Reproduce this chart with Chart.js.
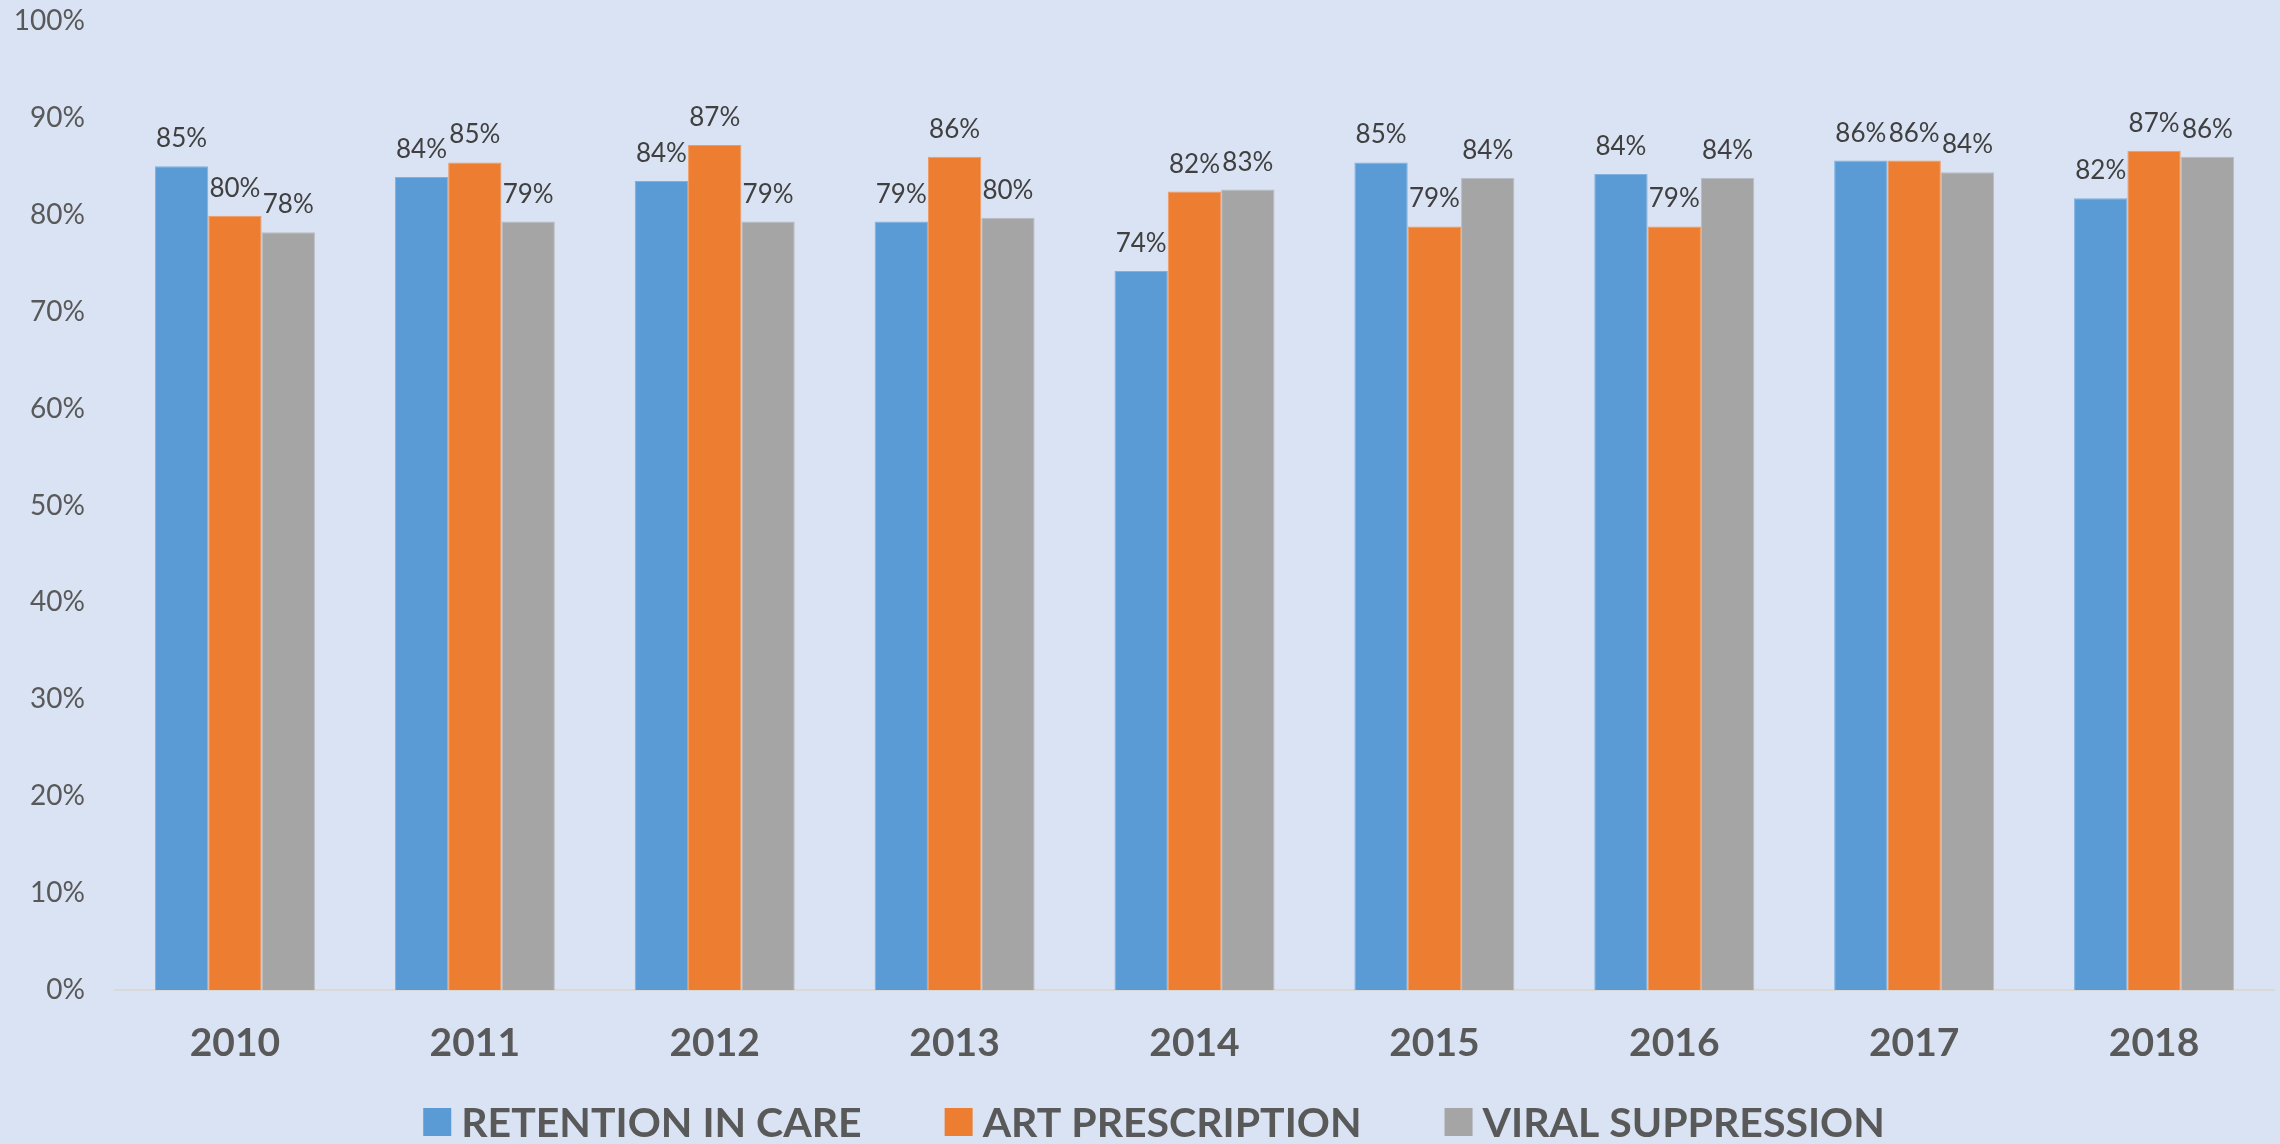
<!DOCTYPE html>
<html>
<head>
<meta charset="utf-8">
<script src="https://cdn.jsdelivr.net/npm/chart.js@4.4.1/dist/chart.umd.min.js"></script>
<style>
  html, body { margin: 0; padding: 0; background: #dae3f3; }
  #wrap { width: 2280px; height: 1144px; }
</style>
</head>
<body>
<div id="wrap"><canvas id="chart" width="2280" height="1144"></canvas></div>
<script>
/***** DATA *****/
const years = ["2010", "2011", "2012", "2013", "2014", "2015", "2016", "2017", "2018"];
const retentionInCare  = [85.0, 83.9, 83.5, 79.3, 74.2, 85.4, 84.2, 85.6, 81.7];
const artPrescription  = [79.9, 85.4, 87.2, 86.0, 82.4, 78.8, 78.8, 85.6, 86.6];
const viralSuppression = [78.2, 79.3, 79.3, 79.7, 82.6, 83.8, 83.8, 84.4, 86.0];
const seriesNames = ["RETENTION IN CARE", "ART PRESCRIPTION", "VIRAL SUPPRESSION"];
const yMin = 0, yMax = 100, yStep = 10;

/***** PLUGINS *****/
const bgFill = {
  id: "bgFill",
  beforeDraw(chart) {
    const ctx = chart.ctx;
    ctx.save();
    ctx.fillStyle = "#dae3f3";
    ctx.fillRect(0, 0, chart.width, chart.height);
    ctx.restore();
  }
};

// value labels above every bar
const barLabels = {
  id: "barLabels",
  afterDatasetsDraw(chart) {
    const ctx = chart.ctx;
    ctx.save();
    ctx.font = "26px Lato";
    ctx.fillStyle = "#404040";
    ctx.textAlign = "center";
    ctx.textBaseline = "alphabetic";
    chart.data.datasets.forEach((ds, i) => {
      chart.getDatasetMeta(i).data.forEach((bar, j) => {
        ctx.fillText(Math.round(ds.data[j]) + "%", bar.x, bar.y - 19);
      });
    });
    ctx.restore();
  }
};

// legend drawn by hand (tight box/text gap, wide item gap)
const bottomLegend = {
  id: "bottomLegend",
  afterDraw(chart) {
    const ctx = chart.ctx;
    ctx.save();
    ctx.font = "bold 41px Lato";
    const box = 28, gap = 10, itemGap = 83;
    const items = chart.data.datasets.map(ds => ({
      text: ds.label, color: ds.backgroundColor, w: ctx.measureText(ds.label).width
    }));
    const total = items.reduce((s, it) => s + box + gap + it.w, 0) + itemGap * (items.length - 1);
    let x = chart.width / 2 + 14 - total / 2;
    const cy = chart.height - 22;
    ctx.textBaseline = "middle";
    ctx.textAlign = "left";
    items.forEach(it => {
      ctx.fillStyle = it.color;
      ctx.fillRect(x, cy - box / 2, box, box);
      ctx.fillStyle = "#595959";
      ctx.fillText(it.text, x + box + gap, cy + 2);
      x += box + gap + it.w + itemGap;
    });
    ctx.restore();
  }
};

/***** CHART *****/
const barDefaults = { borderWidth: 1, categoryPercentage: 0.667, barPercentage: 1.0 };

new Chart(document.getElementById("chart").getContext("2d"), {
  type: "bar",
  data: {
    labels: years,
    datasets: [
      { label: seriesNames[0], data: retentionInCare,  backgroundColor: "#5b9bd5", borderColor: "#7fb0de", ...barDefaults },
      { label: seriesNames[1], data: artPrescription,  backgroundColor: "#ed7d31", borderColor: "#f29a5e", ...barDefaults },
      { label: seriesNames[2], data: viralSuppression, backgroundColor: "#a5a5a5", borderColor: "#b8bcc4", ...barDefaults }
    ]
  },
  options: {
    responsive: false,
    animation: false,
    devicePixelRatio: 1,
    layout: { padding: { top: 21, right: 6, bottom: 0, left: 0 } },
    plugins: {
      legend: { display: false },
      tooltip: { enabled: false }
    },
    scales: {
      x: {
        grid: { display: false, drawTicks: false },
        border: { display: true, color: "#d9d9d9", width: 2 },
        ticks: { color: "#595959", font: { family: "Lato", size: 39, weight: "bold" }, padding: 30 },
        afterFit: (s) => { s.height = 154; }
      },
      y: {
        min: yMin, max: yMax,
        grid: { display: false, drawTicks: false },
        border: { display: false },
        ticks: {
          stepSize: yStep,
          color: "#595959",
          font: { family: "Lato", size: 28 },
          padding: 30,
          callback: (v) => v + "%"
        },
        afterFit: (s) => { s.width = 115; s.paddingTop = 0; s.paddingBottom = 0; }
      }
    }
  },
  plugins: [bgFill, barLabels, bottomLegend]
});
</script>
</body>
</html>
